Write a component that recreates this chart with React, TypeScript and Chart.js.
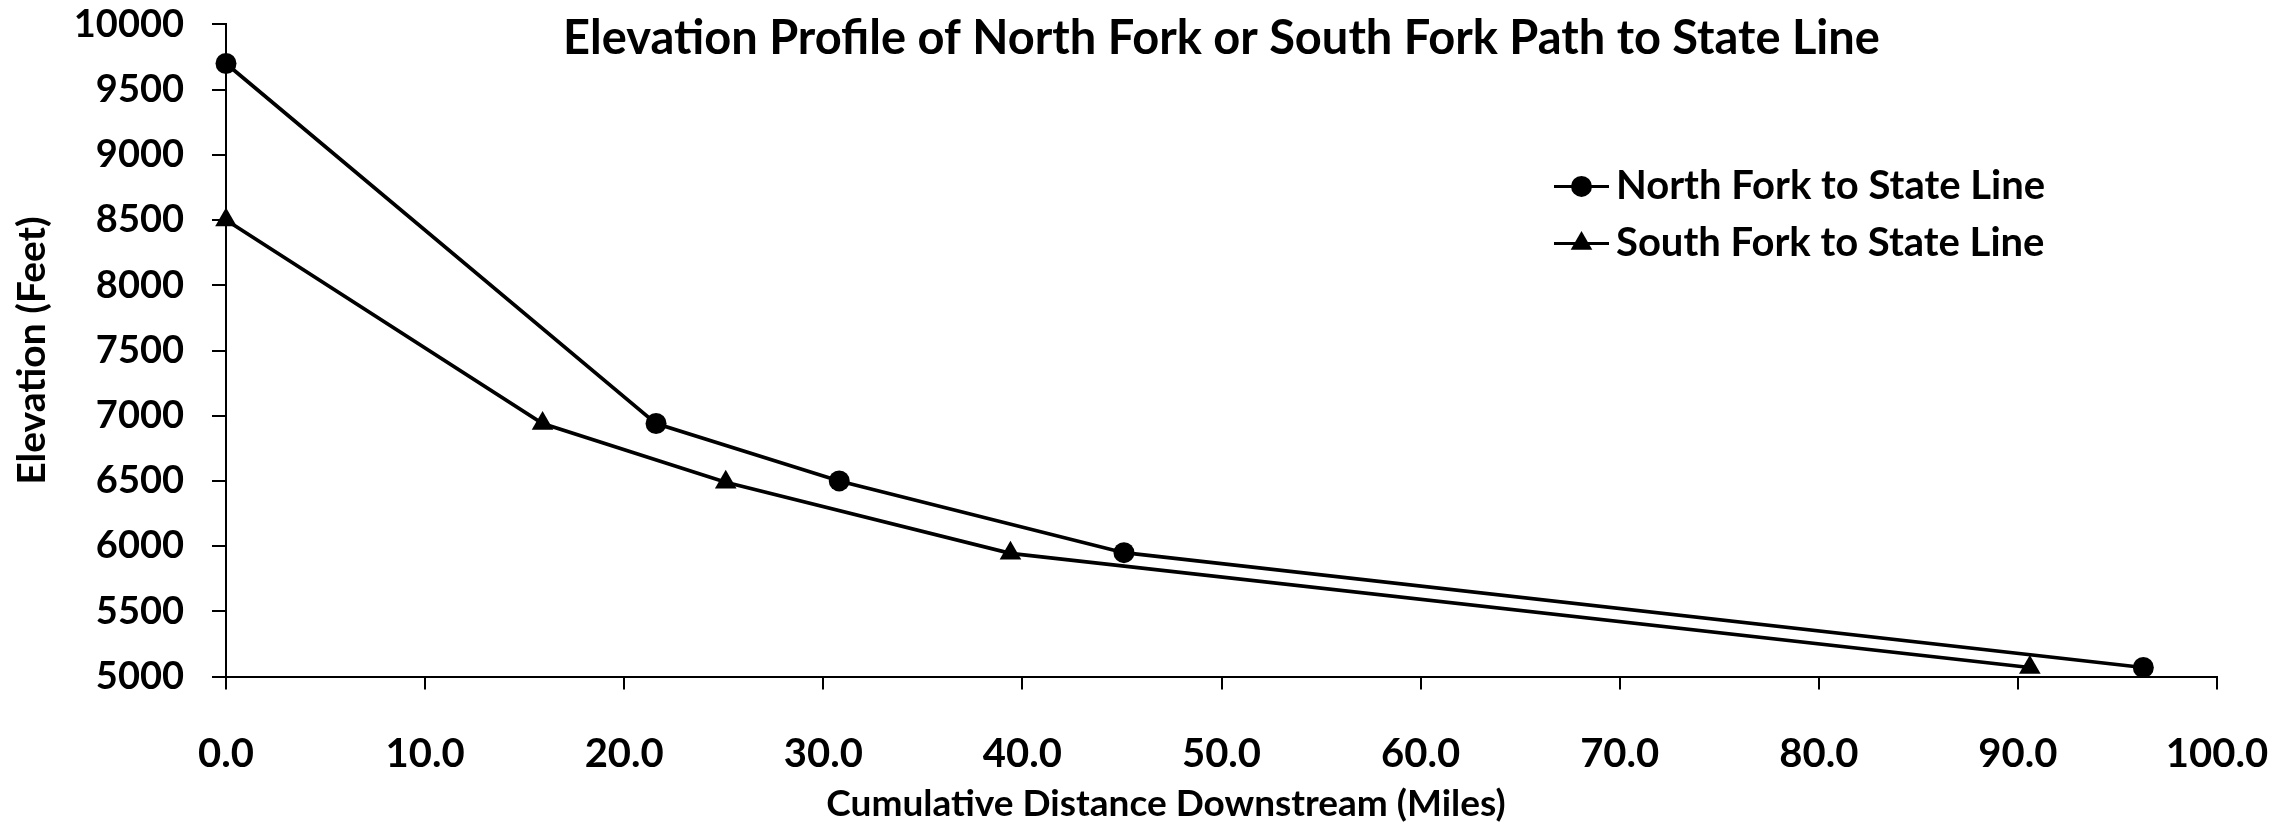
import React, { useEffect, useRef } from "react";
import { Chart, registerables } from "chart.js";

Chart.register(...registerables);

const seriesLabels = ["North Fork to State Line", "South Fork to State Line"];
const northMiles = [0, 21.6, 30.8, 45.1, 96.3];
const northElev = [9700, 6940, 6500, 5950, 5070];
const southMiles = [0, 15.9, 25.1, 39.4, 90.6];
const southElev = [8500, 6940, 6490, 5945, 5070];
const chartTitle = "Elevation Profile of North Fork or South Fork Path to State Line";
const xAxisTitle = "Cumulative Distance Downstream (Miles)";
const yAxisTitle = "Elevation (Feet)";
const xRange = [0, 100];
const xStep = 10;
const yRange = [5000, 10000];
const yStep = 500;

const FONT = "Lato";

const insideLegend = {
  id: "insideLegend",
  afterDraw(chart: any) {
    const ctx = chart.ctx;
    const ca = chart.chartArea;
    const x0 = ca.left + 1328;
    const rows = [ca.top + 162, ca.top + 219];
    ctx.save();
    chart.data.datasets.forEach((ds: any, i: number) => {
      const y = rows[i];
      ctx.strokeStyle = "#000";
      ctx.lineWidth = 3;
      ctx.beginPath();
      ctx.moveTo(x0, y);
      ctx.lineTo(x0 + 55, y);
      ctx.stroke();
      ctx.fillStyle = "#000";
      const cx = x0 + 27.5;
      ctx.beginPath();
      if (ds.pointStyle === "triangle") {
        const r = 12.5;
        ctx.moveTo(cx, y - r);
        ctx.lineTo(cx + r * 0.866, y + r * 0.5);
        ctx.lineTo(cx - r * 0.866, y + r * 0.5);
        ctx.closePath();
      } else {
        ctx.arc(cx, y, 10.5, 0, Math.PI * 2);
      }
      ctx.fill();
      ctx.font = `bold 40px ${FONT}`;
      ctx.textBaseline = "middle";
      ctx.textAlign = "left";
      ctx.fillText(ds.label, x0 + 62, y);
    });
    ctx.restore();
  },
};

export default function App() {
  const ref = useRef<HTMLCanvasElement | null>(null);

  useEffect(() => {
    if (!ref.current) return;
    const chart = new Chart(ref.current, {
      type: "line",
      data: {
        datasets: [
          {
            label: seriesLabels[0],
            data: northMiles.map((x, i) => ({ x, y: northElev[i] })),
            borderColor: "#000",
            backgroundColor: "#000",
            borderWidth: 3.7,
            pointStyle: "circle",
            pointRadius: 10.5,
            pointBorderWidth: 0,
            pointBackgroundColor: "#000",
            clip: false,
          },
          {
            label: seriesLabels[1],
            data: southMiles.map((x, i) => ({ x, y: southElev[i] })),
            borderColor: "#000",
            backgroundColor: "#000",
            borderWidth: 3.7,
            pointStyle: "triangle",
            pointRadius: 12.5,
            pointBorderWidth: 0,
            pointBackgroundColor: "#000",
            clip: false,
          },
        ],
      },
      options: {
        animation: false,
        responsive: true,
        maintainAspectRatio: false,
        layout: { padding: { left: 37, right: 0, top: 0, bottom: 0 } },
        plugins: {
          legend: { display: false },
          tooltip: { enabled: false },
          title: {
            display: true,
            text: chartTitle,
            fullSize: false,
            color: "#000",
            font: { family: FONT, size: 47, weight: "bold", lineHeight: 1.2 },
            padding: { top: 11, bottom: -43 },
          },
          subtitle: {
            display: true,
            text: xAxisTitle,
            position: "bottom",
            fullSize: true,
            color: "#000",
            font: { family: FONT, size: 37, weight: "bold", lineHeight: 1.2 },
            padding: { top: 0, bottom: -3 },
          },
        },
        scales: {
          x: {
            type: "linear",
            min: xRange[0],
            max: xRange[1],
            afterFit: (s: any) => {
              s.height = 105;
              s.paddingLeft = 0;
              s.paddingRight = 78;
            },
            ticks: {
              stepSize: xStep,
              color: "#000",
              padding: 40,
              font: { family: FONT, size: 40, weight: "bold" },
              callback: (v: any) => Number(v).toFixed(1),
              maxRotation: 0,
            },
            grid: {
              drawOnChartArea: false,
              drawTicks: true,
              tickLength: 13,
              color: "#000",
              lineWidth: 2,
            },
            border: { display: true, color: "#000", width: 2 },
          },
          y: {
            type: "linear",
            min: yRange[0],
            max: yRange[1],
            afterFit: (s: any) => {
              s.width = 189;
              s.paddingTop = 0;
              s.paddingBottom = 0;
            },
            ticks: {
              stepSize: yStep,
              color: "#000",
              padding: 28,
              font: { family: FONT, size: 38, weight: "bold" },
              callback: (v: any) => String(v),
            },
            grid: {
              drawOnChartArea: false,
              drawTicks: true,
              tickLength: 14,
              color: "#000",
              lineWidth: 2,
            },
            border: { display: true, color: "#000", width: 2 },
            title: {
              display: true,
              text: yAxisTitle,
              color: "#000",
              font: { family: FONT, size: 39, weight: "bold", lineHeight: 1.2 },
              padding: { top: -28, bottom: 0 },
            },
          },
        },
      },
      plugins: [insideLegend],
    });
    return () => chart.destroy();
  }, []);

  return (
    <div style={{ position: "fixed", left: 0, top: 0, width: "2295px", height: "823px", background: "#fff" }}>
      <canvas ref={ref} />
    </div>
  );
}
